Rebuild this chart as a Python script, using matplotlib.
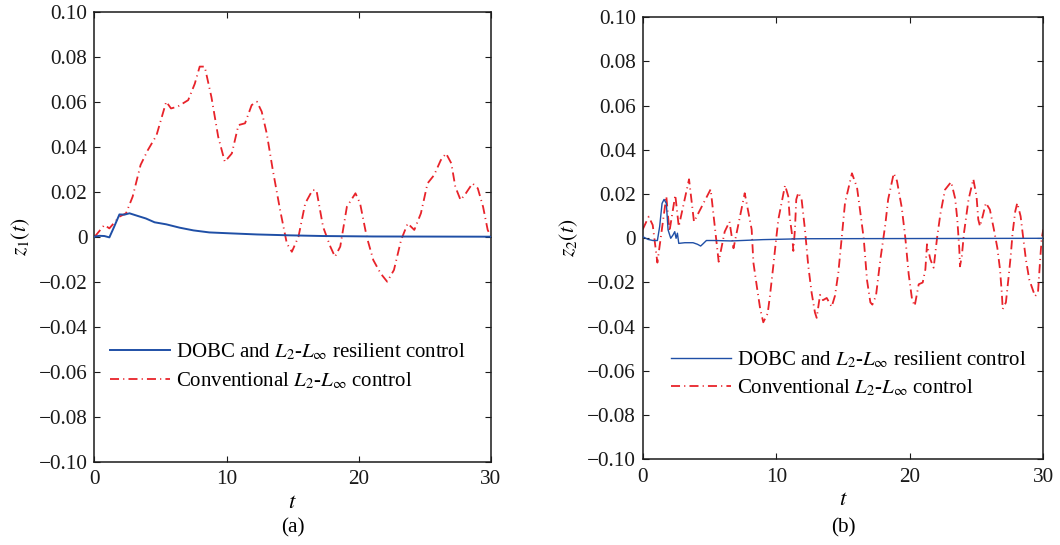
import matplotlib
matplotlib.use("Agg")
import matplotlib.pyplot as plt
from matplotlib.ticker import FixedLocator, FuncFormatter

plt.rcParams['font.family'] = ['Liberation Serif', 'DejaVu Serif']
plt.rcParams['mathtext.fontset'] = 'stix'
plt.rcParams['lines.scale_dashes'] = False

# ---------------- data ----------------
t_a_dobc = [0, 0.38, 0.76, 1.14, 1.5, 1.9, 2.28, 2.66, 3.3, 3.9, 4.56, 5.44, 6.46,
            7.5, 8.7, 10.25, 12.3, 14.8, 17.3, 21.1, 30]
z1_dobc = [0, 0.0004, 0.0003, -0.0003, 0.0044, 0.0099, 0.0098, 0.0104, 0.0092, 0.0081,
           0.0064, 0.0055, 0.004, 0.0028, 0.0019, 0.0015, 0.001, 0.0006, 0.0003, 0.0001, 0]

t_a_conv = [0, 0.13, 0.76, 1.14, 1.9, 2.4, 2.9, 3.5, 4.05, 4.7,
            5.44, 5.8, 6.3, 7.1, 7.6, 7.97, 8.35, 8.86, 9.37, 9.87,
            10.4, 10.9, 11.4, 11.9, 12.3, 12.66, 13.04, 13.5, 14.05, 14.56,
            14.94, 15.44, 15.95, 16.5, 16.8, 17.3, 17.85, 18.2, 18.6, 19.1,
            19.75, 20.1, 20.6, 21.1, 21.65, 22.15, 22.66, 23.2, 23.7, 24.2,
            24.7, 25.2, 25.7, 26.2, 26.6, 27.0, 27.3, 27.7, 28.1, 28.6,
            29.0, 29.4, 29.75, 30]
z1_conv = [0, 0.0007, 0.0052, 0.0037, 0.0089, 0.0104, 0.0178, 0.0319, 0.0385, 0.045,
           0.060, 0.057, 0.0578, 0.0607, 0.068, 0.0756, 0.0756, 0.062, 0.0444, 0.0333,
           0.037, 0.0496, 0.0504, 0.0585, 0.060, 0.0556, 0.0459, 0.0296, 0.0119, -0.003,
           -0.0067, 0.0, 0.0148, 0.0207, 0.0207, 0.0044, -0.0044, -0.0089, -0.0044, 0.0133,
           0.0193, 0.0148, 0.0, -0.0104, -0.0163, -0.020, -0.0148, -0.0015, 0.0059, 0.003,
           0.0104, 0.0237, 0.0274, 0.034, 0.037, 0.0326, 0.0222, 0.0163, 0.0193, 0.0237,
           0.0215, 0.0133, 0.003, 0.0]

t_b_dobc = [0, 0.4, 0.77, 1.1, 1.27, 1.45, 1.6, 1.77, 1.9, 2.1, 2.27, 2.4, 2.5, 2.6,
            2.7, 3.15, 3.77, 4.1, 4.34, 4.5, 4.77, 5.39, 6.64, 9.0, 12.0, 30]
z2_dobc = [0.00075, -0.0005, -0.001, -0.001, 0.0053, 0.0158, 0.0176, 0.0158, 0.0038, 0.0,
           0.0015, 0.003, 0.0, 0.0023, -0.0023, -0.002, -0.002, -0.0027, -0.0035, -0.0026,
           -0.001, -0.001, -0.0012, -0.0006, -0.0002, 0.0]

t_b_conv = [0, 0.45, 0.75, 1.1, 1.77, 2.0, 2.44, 2.7, 3.47, 3.84,
            5.09, 5.69, 6.14, 6.5, 6.8, 7.64, 8.16, 8.29, 8.55, 8.8,
            9.03, 9.36, 9.53, 9.78, 10.0, 10.16, 10.66, 10.9, 11.0, 11.2,
            11.28, 11.4, 11.5, 11.66, 11.9, 12.15, 12.4, 12.65, 12.9, 13.03,
            13.28, 13.5, 13.78, 14.15, 14.4, 14.65, 14.9, 15.15, 15.67, 16.05,
            16.3, 16.55, 16.8, 17.05, 17.2, 17.47, 17.8, 18.17, 18.38, 18.8,
            19.04, 19.4, 19.67, 19.92, 20.17, 20.37, 20.67, 20.97, 21.17, 21.29,
            21.54, 21.79, 22.04, 22.29, 22.64, 23.1, 23.4, 23.56, 23.71, 23.76,
            23.9, 24.06, 24.4, 24.76, 25.0, 25.13, 25.26, 25.46, 25.7, 26.0,
            26.3, 26.56, 26.76, 26.9, 26.96, 27.2, 27.38, 27.56, 27.7, 27.9,
            28.05, 28.3, 28.5, 28.7, 28.95, 29.38, 29.6, 29.75, 29.88, 30]
z2_conv = [0.004, 0.0098, 0.006, -0.011, 0.019, 0.003, 0.0196, 0.0053, 0.0267, 0.0075,
           0.0222, -0.0106, 0.003, 0.0075, -0.0045, 0.0204, 0.004, -0.011, -0.0219, -0.032,
           -0.038, -0.034, -0.026, -0.0125, 0.0, 0.0086, 0.024, 0.019, 0.01, 0.001,
           -0.0057, 0.004, 0.0176, 0.0207, 0.0176, 0.004, -0.0125, -0.0246, -0.0336, -0.036,
           -0.0256, -0.028, -0.027, -0.031, -0.026, -0.0156, 0.0, 0.016, 0.0294, 0.023,
           0.0116, 0.0, -0.019, -0.029, -0.030, -0.026, -0.0095, 0.0063, 0.0176, 0.0294,
           0.026, 0.0139, 0.0, -0.0163, -0.0276, -0.0306, -0.0208, -0.020, -0.014, -0.0027,
           -0.0095, -0.0133, 0.0, 0.0109, 0.022, 0.0255, 0.018, 0.0085, -0.005, -0.0127,
           -0.008, 0.0024, 0.0175, 0.0268, 0.019, 0.0085, 0.0054, 0.010, 0.016, 0.013,
           0.004, -0.0044, -0.0142, -0.0255, -0.032, -0.029, -0.0187, -0.008, 0.0024, 0.0122,
           0.016, 0.010, 0.0, -0.0097, -0.0187, -0.0262, -0.0247, -0.011, 0.0, 0.004]

x_ticks = [0, 10, 20, 30]
y_ticks = [-0.10, -0.08, -0.06, -0.04, -0.02, 0, 0.02, 0.04, 0.06, 0.08, 0.10]
label_dobc = r'DOBC and $L_2$-$L_\infty$ resilient control'
label_conv = r'Conventional $L_2$-$L_\infty$ control'
ylabels = [r'$z_1(t)$', r'$z_2(t)$']
captions = ['(a)', '(b)']

# ---------------- styling ----------------
BLUE = '#1f4fa6'
RED = '#e8232a'
DASH = (0, (6.5, 3, 0.8, 3))

W, H = 1060, 545
fig = plt.figure(figsize=(W / 100, H / 100), dpi=100)
ax_a = fig.add_axes([94.3 / W, 1 - 461.7 / H, 396.7 / W, 450 / H])
ax_b = fig.add_axes([642.7 / W, 1 - 459.3 / H, 400.6 / W, 442 / H])


def yfmt(v, pos):
    if abs(v) < 1e-9:
        return '0'
    s = f'{abs(v):.2f}'
    return ('\u2212' + s) if v < 0 else s


panels = [
    (ax_a, t_a_dobc, z1_dobc, t_a_conv, z1_conv, 1.4, (0.04, 0.266), ylabels[0], captions[0]),
    (ax_b, t_b_dobc, z2_dobc, t_b_conv, z2_conv, 1.0, (0.07, 0.249), ylabels[1], captions[1]),
]

for ax, td, zd, tc, zc, blw, leg_xy, ylab, cap in panels:
    ax.plot(td, zd, color=BLUE, lw=blw, label=label_dobc, zorder=3)
    ax.plot(tc, zc, color=RED, lw=1.3, linestyle=DASH, label=label_conv, zorder=2)
    ax.set_xlim(0, 30)
    ax.set_ylim(-0.10, 0.10)
    ax.xaxis.set_major_locator(FixedLocator(x_ticks))
    ax.yaxis.set_major_locator(FixedLocator(y_ticks))
    ax.yaxis.set_major_formatter(FuncFormatter(yfmt))
    ax.tick_params(direction='in', length=4, width=0.8, top=True, right=True,
                   labelsize=15.3, colors='#1a1a1a')
    ax.tick_params(axis='x', pad=6)
    ax.tick_params(axis='y', pad=5)
    for sp in ax.spines.values():
        sp.set_linewidth(1.1)
        sp.set_color('#1a1a1a')
    ax.set_xlabel(r'$t$', fontsize=16.5, labelpad=2)
    ax.set_ylabel(ylab, fontsize=15.5, labelpad=5)
    leg = ax.legend(loc='upper left', bbox_to_anchor=leg_xy, frameon=False,
                    fontsize=15, borderpad=0, borderaxespad=0,
                    handlelength=2.87, handletextpad=0.29, labelspacing=0.36)
    pos = ax.get_position()
    fig.text((pos.x0 + pos.x1) / 2, 1 - 528 / H, cap, ha='center', va='center',
             fontsize=15.3)

fig.savefig('out.png', dpi=100)
